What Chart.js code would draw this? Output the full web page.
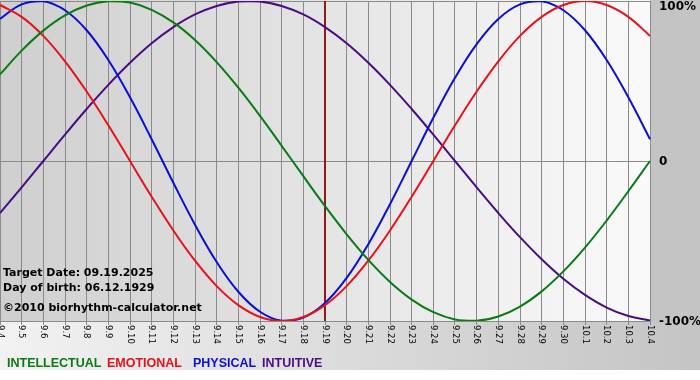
<!DOCTYPE html>
<html>
<head>
<meta charset="utf-8">
<script src="https://cdn.jsdelivr.net/npm/chart.js@4/dist/chart.umd.min.js"></script>
<style>
  body { margin: 0; background: #fff; }
  #wrap { width: 700px; height: 380px; }
</style>
</head>
<body>
<div id="wrap"><canvas id="bio" width="700" height="380"></canvas></div>
<script>
// dias (mes.dia)
const days = ["9.4", "9.5", "9.6", "9.7", "9.8", "9.9", "9.10", "9.11", "9.12", "9.13",
    "9.14", "9.15", "9.16", "9.17", "9.18", "9.19", "9.20", "9.21", "9.22", "9.23",
    "9.24", "9.25", "9.26", "9.27", "9.28", "9.29", "9.30", "10.1", "10.2", "10.3", "10.4"];

// valores (-1 .. 1)
const intellectual = [0.541, 0.690, 0.815, 0.910, 0.972, 0.999, 0.990, 0.945, 0.866, 0.756,
    0.618, 0.458, 0.282, 0.095, -0.095, -0.282, -0.458, -0.618, -0.756, -0.866,
    -0.945, -0.990, -0.999, -0.972, -0.910, -0.815, -0.690, -0.541, -0.372, -0.189, 0.000];
const emotional = [0.975, 0.901, 0.782, 0.623, 0.434, 0.223, 0.000, -0.223, -0.434, -0.623,
    -0.782, -0.901, -0.975, -1.000, -0.975, -0.901, -0.782, -0.623, -0.434, -0.223,
    0.000, 0.223, 0.434, 0.623, 0.782, 0.901, 0.975, 1.000, 0.975, 0.901, 0.782];
const physical = [0.888, 0.979, 0.998, 0.942, 0.817, 0.631, 0.398, 0.136, -0.136, -0.398,
    -0.631, -0.817, -0.942, -0.998, -0.979, -0.888, -0.731, -0.520, -0.270, 0.000,
    0.270, 0.520, 0.731, 0.888, 0.979, 0.998, 0.942, 0.817, 0.631, 0.398, 0.136];
const intuitive = [-0.325, -0.165, 0.000, 0.165, 0.325, 0.476, 0.614, 0.736, 0.837, 0.916,
    0.969, 0.997, 0.997, 0.969, 0.916, 0.837, 0.736, 0.614, 0.476, 0.325,
    0.165, 0.000, -0.165, -0.325, -0.476, -0.614, -0.736, -0.837, -0.916, -0.969, -0.997];

const targetDay = "9.19";
const infoLines = ["Target Date: 09.19.2025", "Day of birth: 06.12.1929", "©2010 biorhythm-calculator.net"];
const yTickValues = [1, 0, -1];
const yTickLabels = ["100%", "0", "-100%"];

const series = [
    { name: "INTELLECTUAL", values: intellectual, color: "#0b7a14", legendX: 7 },
    { name: "EMOTIONAL", values: emotional, color: "#e6121a", legendX: 107 },
    { name: "PHYSICAL", values: physical, color: "#0a10d2", legendX: 193 },
    { name: "INTUITIVE", values: intuitive, color: "#4a0c84", legendX: 262 }
];

// fundos em degradê
const backgroundPlugin = {
    id: "bg",
    beforeDraw(chart) {
        const { ctx, chartArea: a, width, height } = chart;
        ctx.save();
        ctx.fillStyle = "#fff";
        ctx.fillRect(0, 0, width, height);
        let g = ctx.createLinearGradient(a.left, 0, a.right, 0);
        g.addColorStop(0, "#cfcfcf");
        g.addColorStop(1, "#fafafa");
        ctx.fillStyle = g;
        ctx.fillRect(a.left, 0, a.right - a.left, a.bottom);
        ctx.fillStyle = "#c4c4c4";
        ctx.fillRect(a.right, 0, width - a.right, a.bottom);
        g = ctx.createLinearGradient(0, 0, width, 0);
        g.addColorStop(0, "#f2f2f2");
        g.addColorStop(1, "#c4c4c4");
        ctx.fillStyle = g;
        ctx.fillRect(0, a.bottom, width, 370 - a.bottom);
        ctx.restore();
    }
};

// linha do dia alvo
const targetPlugin = {
    id: "target",
    beforeDatasetsDraw(chart) {
        const { ctx, chartArea: a, scales } = chart;
        const x = scales.x.getPixelForValue(days.indexOf(targetDay));
        ctx.save();
        ctx.strokeStyle = "#8a1c1c";
        ctx.lineWidth = 2;
        ctx.beginPath();
        ctx.moveTo(x, a.top);
        ctx.lineTo(x, a.bottom);
        ctx.stroke();
        ctx.restore();
    }
};

// textos: rótulos dos eixos, info e legenda
const textPlugin = {
    id: "texts",
    afterDraw(chart) {
        const { ctx, chartArea: a, scales } = chart;
        ctx.save();
        ctx.fillStyle = "#000";

        ctx.font = "8.5px 'DejaVu Sans'";
        ctx.textAlign = "left";
        ctx.textBaseline = "middle";
        days.forEach((d, i) => {
            const x = scales.x.getPixelForValue(i);
            ctx.save();
            ctx.translate(x, a.bottom + 4);
            ctx.rotate(Math.PI / 2);
            ctx.fillText(d, 0, 0);
            ctx.restore();
        });

        ctx.font = "bold 12px 'DejaVu Sans'";
        yTickValues.forEach((v, i) => {
            const y = Math.max(scales.y.getPixelForValue(v) + 1, 7);
            ctx.fillText(yTickLabels[i], a.right + 9, y);
        });

        ctx.font = "bold 11px 'DejaVu Sans'";
        ctx.textBaseline = "alphabetic";
        ctx.fillText(infoLines[0], 3, 276);
        ctx.fillText(infoLines[1], 3, 291);
        ctx.fillText(infoLines[2], 3, 311);

        ctx.font = "bold 12.5px 'Liberation Sans'";
        series.forEach(s => {
            ctx.fillStyle = s.color;
            ctx.fillText(s.name, s.legendX, 367);
        });
        ctx.restore();
    }
};

function drawBiorhythm(canvasId) {
    const ctx = document.querySelector(canvasId).getContext("2d");
    new Chart(ctx, {
        type: "line",
        data: {
            labels: days,
            datasets: series.map(s => ({
                label: s.name,
                data: s.values,
                borderColor: s.color,
                borderWidth: 2,
                pointRadius: 0,
                fill: false,
                tension: 0.4
            }))
        },
        options: {
            responsive: false,
            animation: false,
            devicePixelRatio: 1,
            layout: { padding: { top: 1, left: 0, right: 0, bottom: 0 } },
            plugins: { legend: { display: false }, tooltip: { enabled: false } },
            scales: {
                x: {
                    ticks: { display: false },
                    grid: { color: "#8a8a8a", tickLength: 4 },
                    border: { color: "#8a8a8a" },
                    afterFit: s => { s.height = 59; }
                },
                y: {
                    position: "right",
                    min: -1,
                    max: 1,
                    ticks: { display: false, stepSize: 1 },
                    grid: { color: "#8a8a8a", drawTicks: false },
                    border: { display: false },
                    afterFit: s => { s.width = 50; }
                }
            }
        },
        plugins: [backgroundPlugin, targetPlugin, textPlugin]
    });
}

drawBiorhythm("#bio");
</script>
</body>
</html>
